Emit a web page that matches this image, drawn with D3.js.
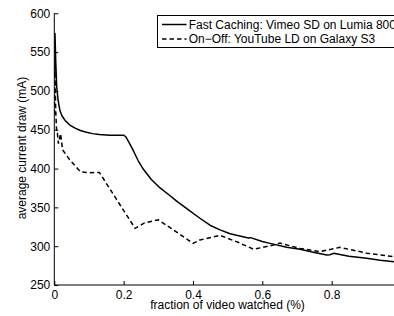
<!DOCTYPE html>
<html><head><meta charset="utf-8">
<script src="https://cdn.jsdelivr.net/npm/d3@7"></script>
<style>
html,body{margin:0;padding:0;background:#fff;}
svg{display:block;font-family:"Liberation Sans",Arial,sans-serif;}
</style></head>
<body>
<svg id="chart" width="394" height="316"></svg>
<script>
const xTicks = [0, 0.2, 0.4, 0.6, 0.8];
const yTicks = [250, 300, 350, 400, 450, 500, 550, 600];
const seriesNames = ["Fast Caching: Vimeo SD on Lumia 800", "On\u2212Off: YouTube LD on Galaxy S3"];
const xLabel = "fraction of video watched (%)";
const yLabel = "average current draw (mA)";

const solidX = [0.0005,0.002,0.004,0.007,0.011,0.016,0.022,0.031,0.045,0.06,0.075,0.09,0.11,0.13,0.16,0.18,0.2,0.206,0.215,0.228,0.242,0.257,0.28,0.305,0.334,0.353,0.386,0.42,0.449,0.478,0.507,0.535,0.56,0.566,0.6,0.622,0.67,0.709,0.75,0.786,0.795,0.805,0.85,0.901,0.94,0.98,1.0];
const solidY = [520,574,540,505,488,475,468,462,456,452,449,447,445,444,443,443,443,441,434,423,410,399,386,375,365,358,347,336,327,321,316,313,310.5,311,306,303.6,298.5,296,292,288.6,289,290.8,287,284.4,282,280,279];

const dashX = [0.0005,0.002,0.004,0.007,0.009,0.012,0.018,0.024,0.045,0.075,0.098,0.13,0.18,0.233,0.26,0.3,0.34,0.4,0.42,0.478,0.53,0.575,0.632,0.651,0.709,0.767,0.824,0.86,0.901,0.978,1.0];
const dashY = [470,525,475,445,445,432,445,424,411,396,394.5,395,360,323,330,334,322,303.6,308,314,305,296,301.5,304,297,293,298.5,295,291,286.5,286];

const svg = d3.select("#chart");
const x = d3.scaleLinear().domain([0, 1]).range([54.3, 401]);
const y = d3.scaleLinear().domain([250, 600]).range([285, 13.3]);
const FS = 12;

svg.append("defs").append("clipPath").attr("id","clip")
  .append("rect").attr("x", 54.3).attr("y", 0).attr("width", 400).attr("height", 285);

// axes
const xAxis = d3.axisBottom(x).tickValues(xTicks).tickSize(-4).tickPadding(5).tickFormat(d3.format("~g"));
const gx = svg.append("g").attr("transform", "translate(0,285)").call(xAxis);
gx.select(".domain").attr("d", `M${x(0)},0H401`).attr("stroke","#000").attr("stroke-width",1);
gx.selectAll(".tick line").attr("stroke","#000");
gx.selectAll("text").attr("font-size", FS).attr("fill","#000").attr("font-family","Liberation Sans, Arial, sans-serif");

const yAxis = d3.axisLeft(y).tickValues(yTicks).tickSize(-4).tickPadding(4);
const gy = svg.append("g").attr("transform", `translate(${x(0)},0)`).call(yAxis);
gy.select(".domain").attr("d", `M0,${y(600)}V${y(250)}`).attr("stroke","#000").attr("stroke-width",1);
gy.selectAll(".tick line").attr("stroke","#000");
gy.selectAll("text").attr("font-size", FS).attr("fill","#000").attr("font-family","Liberation Sans, Arial, sans-serif");

// lines
const line = d3.line().x(d => x(d[0])).y(d => y(d[1]));
const plot = svg.append("g").attr("clip-path","url(#clip)");
plot.append("path").datum(solidX.map((v,i)=>[v, solidY[i]]))
  .attr("d", line).attr("fill","none").attr("stroke","#000").attr("stroke-width",1.5).attr("stroke-linejoin","round");
plot.append("path").datum(dashX.map((v,i)=>[v, dashY[i]]))
  .attr("d", line).attr("fill","none").attr("stroke","#000").attr("stroke-width",1.5).attr("stroke-dasharray","4.5,3");

// axis labels
svg.append("text").attr("x", 227.5).attr("y", 309).attr("text-anchor","middle")
  .attr("font-size", FS).text(xLabel);
svg.append("text").attr("transform","translate(26,148) rotate(-90)").attr("text-anchor","middle")
  .attr("font-size", FS).text(yLabel);

// legend
const lg = svg.append("g");
lg.append("rect").attr("x", 157.5).attr("y", 15.5).attr("width", 260).attr("height", 32)
  .attr("fill","#fff").attr("stroke","#000").attr("stroke-width",1);
const rows = [{dash:null, yy:24.5},{dash:"4.5,3", yy:39}];
rows.forEach((r,i)=>{
  lg.append("line").attr("x1",162).attr("x2",186.5).attr("y1",r.yy).attr("y2",r.yy)
    .attr("stroke","#000").attr("stroke-width",1.5).attr("stroke-dasharray", r.dash);
  lg.append("text").attr("x",188.7).attr("y",r.yy+4.2).attr("font-size",FS).text(seriesNames[i]);
});
</script>
</body></html>
